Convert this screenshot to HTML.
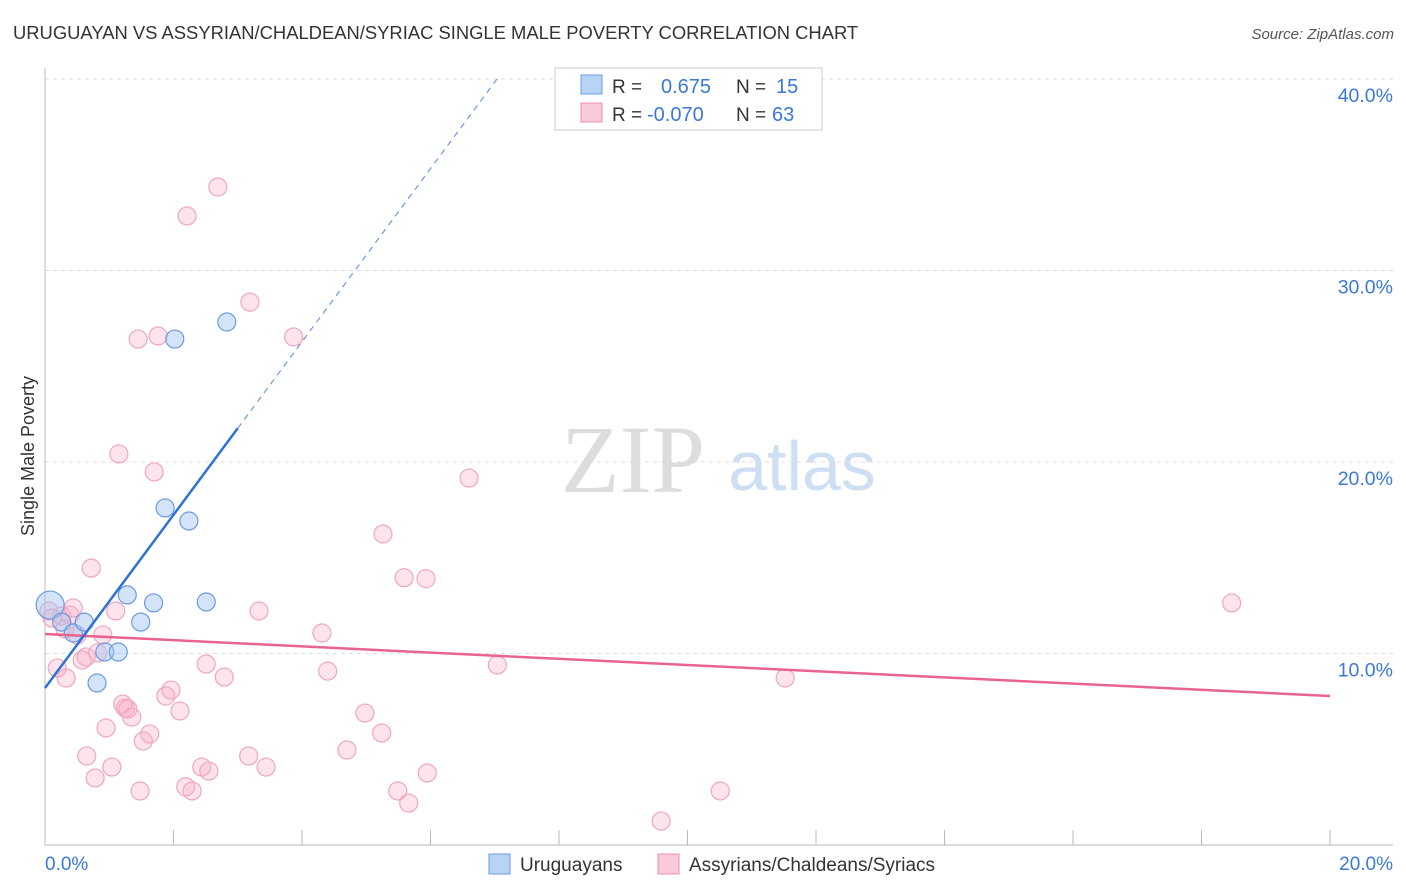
<!DOCTYPE html>
<html><head><meta charset="utf-8"><style>
body{margin:0;background:#fff;font-family:"Liberation Sans",sans-serif}
svg{display:block}
</style></head><body>
<svg id="c" width="1406" height="892" xmlns="http://www.w3.org/2000/svg">
<text x="13" y="39" font-size="18.4" fill="#333">URUGUAYAN VS ASSYRIAN/CHALDEAN/SYRIAC SINGLE MALE POVERTY CORRELATION CHART</text>
<text x="1394" y="39" font-size="15" fill="#555" text-anchor="end" font-style="italic">Source: ZipAtlas.com</text>
<text x="633" y="492" font-size="96" fill="#ddd" font-family="Liberation Serif,serif" text-anchor="middle">ZIP</text>
<text x="802" y="490" font-size="70" fill="#cfdff3" text-anchor="middle">atlas</text>
<text transform="translate(34,456) rotate(-90)" font-size="18" fill="#333" text-anchor="middle">Single Male Poverty</text>
<g id="grid"></g><g id="marks"></g>
<g>
<rect x="555" y="68" width="267" height="62" fill="#fff" stroke="#ccc"/>
<rect x="581" y="75" width="21" height="19" fill="#b8d4f5" stroke="#6a9be0"/>
<rect x="581" y="103" width="21" height="19" fill="#fbcad8" stroke="#ee8fae"/>
<text x="612" y="93" font-size="19" fill="#333">R =</text><text x="661" y="93" font-size="20" fill="#3b78d8">0.675</text>
<text x="736" y="93" font-size="19" fill="#333">N =</text><text x="776" y="93" font-size="20" fill="#3b78d8">15</text>
<text x="612" y="121" font-size="19" fill="#333">R =</text><text x="647" y="121" font-size="20" fill="#3b78d8">-0.070</text>
<text x="736" y="121" font-size="19" fill="#333">N =</text><text x="772" y="121" font-size="20" fill="#3b78d8">63</text>
</g>
<g>
<rect x="489" y="854" width="21" height="20" fill="#b8d4f5" stroke="#6a9be0"/>
<text x="520" y="871" font-size="19" fill="#333">Uruguayans</text>
<rect x="658" y="854" width="21" height="20" fill="#fbcad8" stroke="#ee8fae"/>
<text x="689" y="871" font-size="19" fill="#333">Assyrians/Chaldeans/Syriacs</text>
</g>
</svg>
<script>
const xTicks=[0,20];
const yTicks=[10,20,30,40];
const blueX=[0.08,0.26,0.44,0.61,0.93,1.14,0.81,1.28,1.49,1.69,1.87,2.24,2.51,2.02,2.83];
const blueY=[12.53,11.64,11.07,11.64,10.08,10.08,8.46,13.06,11.64,12.64,17.60,16.92,12.69,26.42,27.31];
const pinkX=[0.06,0.11,0.19,0.26,0.31,0.39,0.44,0.50,0.58,0.64,0.33,0.72,0.65,0.78,0.82,0.90,0.95,1.04,1.10,1.15,1.21,1.25,1.29,1.35,1.48,1.45,1.53,1.63,1.70,1.76,1.88,1.96,2.10,2.19,2.21,2.29,2.44,2.51,2.55,2.69,2.79,3.17,3.19,3.33,3.44,3.87,4.31,4.40,4.70,4.98,5.24,5.26,5.49,5.59,5.66,5.93,5.95,6.60,7.04,9.59,10.51,11.52,18.47];
const pinkY=[12.22,11.85,9.24,11.96,11.28,12.01,12.38,10.97,9.66,9.82,8.72,14.46,4.65,3.50,10.03,10.97,6.11,4.07,12.22,20.42,7.36,7.15,7.10,6.68,2.82,26.42,5.43,5.80,19.48,26.58,7.78,8.09,7.00,3.04,32.85,2.82,4.07,9.45,3.86,34.36,8.77,4.65,28.35,12.22,4.07,26.53,11.07,9.08,4.96,6.89,5.85,16.24,2.82,13.96,2.19,13.91,3.76,19.16,9.40,1.25,2.82,8.72,12.64];
const blueSizes=[14];
const blueFit=[8.2,4.52], pinkFit=[11.02,-0.162];
const X=v=>45+v/20*1285, Y=v=>845-v/10*191.5;
const NS="http://www.w3.org/2000/svg";
function mk(p,t,a){const e=document.createElementNS(NS,t);for(const k in a)e.setAttribute(k,a[k]);p.appendChild(e);return e;}
const g=document.getElementById('grid'), m=document.getElementById('marks');
yTicks.forEach(v=>{
 const l=mk(g,'line',{x1:45,x2:1393,y1:Y(v),y2:Y(v),stroke:'#ddd','stroke-dasharray':'4,4'});
 
 
 const t=mk(g,'text',{x:1393,y:Y(v)+23,'font-size':19.5,fill:'#3b78d8','text-anchor':'end'});t.textContent=v.toFixed(1)+'%';
 
 
});
mk(g,'line',{x1:45,x2:45,y1:68,y2:845,stroke:'#bbb'});
mk(g,'line',{x1:45,x2:1393,y1:845,y2:845,stroke:'#bbb'});
for(let i=0;i<=10;i++){const x=X(i*2);mk(g,'line',{x1:x,x2:x,y1:830,y2:845,stroke:'#bbb'});}
xTicks.forEach((v,i)=>{const t=mk(g,'text',{x:i?1393:45,y:870,'font-size':19,fill:'#3b78d8','text-anchor':i?'end':'start'});t.textContent=v.toFixed(1)+'%';
 
 });
pinkX.forEach((x,i)=>{const c=mk(m,'circle',{cx:X(x),cy:Y(pinkY[i]),r:9,fill:'rgba(248,175,198,0.35)',stroke:'#f0a6bf','stroke-width':1.2});
 
 });
blueX.forEach((x,i)=>{const c=mk(m,'circle',{cx:X(x),cy:Y(blueY[i]),r:blueSizes[i]||9,fill:'rgba(160,196,240,0.45)',stroke:'#6a9be0','stroke-width':1.2});
 
 });
let l=mk(m,'line',{x1:X(0),y1:Y(pinkFit[0]),x2:X(20),y2:Y(pinkFit[0]+20*pinkFit[1]),stroke:'#e8638e','stroke-width':2.5});


l=mk(m,'line',{x1:X(0),y1:Y(blueFit[0]),x2:X(3),y2:Y(blueFit[0]+3*blueFit[1]),stroke:'#2f72d6','stroke-width':2.5});


const xe=(40-blueFit[0])/blueFit[1];
l=mk(m,'line',{x1:X(3),y1:Y(blueFit[0]+3*blueFit[1]),x2:X(xe),y2:Y(40),stroke:'#6a9be0','stroke-width':1.2,'stroke-dasharray':'6,5'});


</script>
</body></html>
